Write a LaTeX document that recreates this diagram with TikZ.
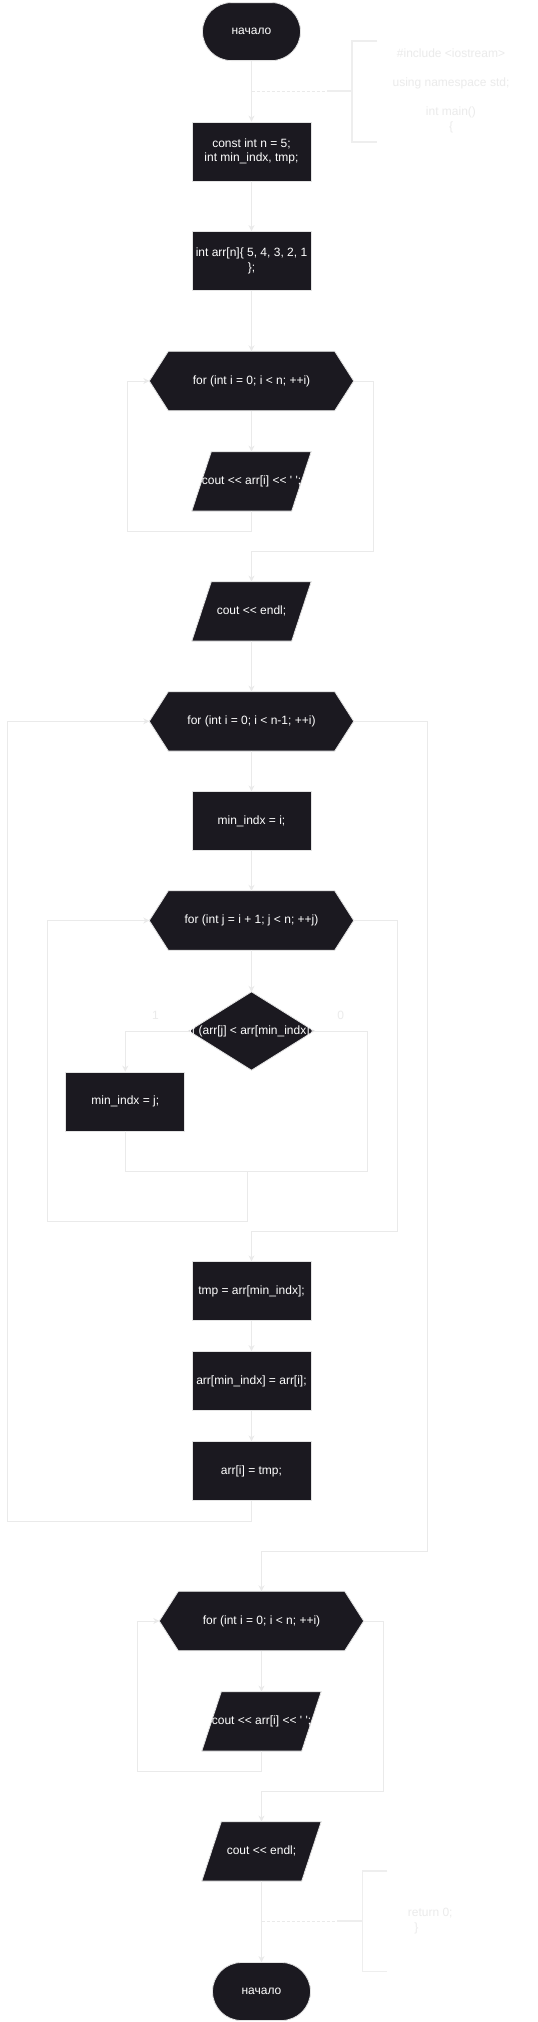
\documentclass[tikz,border=0pt]{standalone}
\usepackage{fontspec}
\setmainfont{Liberation Sans}[Ligatures=TeXOff]
\usetikzlibrary{arrows.meta,backgrounds}
\definecolor{nodefill}{HTML}{1B1920}
\definecolor{edgecol}{HTML}{EAEAEA}
\definecolor{bracketcol}{HTML}{EEEEEE}
\definecolor{bordercol}{HTML}{E4E4E4}
\definecolor{notecol}{HTML}{EBEBEB}
\tikzset{
 base/.style={inner sep=0pt, text=white, font=\fontsize{12}{14.7}\selectfont, align=center},
 termbox/.style={base, fill=nodefill, draw=bordercol, line width=0.8pt, rounded corners=29pt, minimum width=98, minimum height=58},
 procbox/.style={base, fill=nodefill, draw=bordercol, line width=0.8pt, minimum width=119, minimum height=59},
 hexbox/.style={base, minimum width=166, minimum height=59},
 parabox/.style={base, minimum width=119, minimum height=59},
 decbox/.style={base, minimum width=125, minimum height=78},
 shapefill/.style={fill=nodefill, draw=bordercol, line width=0.8pt},
 conn/.style={draw=edgecol, line width=1pt},
 arr/.style={conn, -{Stealth[length=6pt,width=6pt]}},
 dashline/.style={conn, dash pattern=on 3pt off 2pt},
 bracket/.style={draw=bracketcol, line width=1.4pt},
 note/.style={text=notecol, font=\fontsize{12}{14.7}\selectfont, align=center, inner sep=0pt},
}
\newcommand\hexpoly[1]{\path[shapefill] (#1.north west) -- (#1.north east) -- ([xshift=19pt]#1.east) -- (#1.south east) -- (#1.south west) -- ([xshift=-19pt]#1.west) -- cycle;}
\newcommand\parapoly[1]{\path[shapefill] ([xshift=19.5pt]#1.north west) -- (#1.north east) -- ([xshift=-19.5pt]#1.south east) -- (#1.south west) -- cycle;}
\newcommand\decpoly[1]{\path[shapefill] (#1.north) -- (#1.east) -- (#1.south) -- (#1.west) -- cycle;}
\begin{document}
\begin{tikzpicture}[x=1pt,y=-1pt]
\begin{pgfonlayer}{background}
\fill[white] (0,0) rectangle (538,2022);
\end{pgfonlayer}
\useasboundingbox (0,0) rectangle (538,2022);

% nodes
\node[termbox] (start) at (251.5,31.6) {начало};
\node[procbox] (b1) at (251.5,151.5) {const int n = 5;\\int min\_indx, tmp;};
\node[procbox] (b2) at (251.5,261) {int arr[n]\{ 5, 4, 3, 2, 1\\\};};
\node[hexbox] (f1) at (251.5,381) {for (int i = 0; i < n; ++i)};
\node[parabox] (p1) at (251.5,481.3) {cout << arr[i] << ' ';};
\node[parabox] (e1) at (251.5,611.3) {cout << endl;};
\node[hexbox] (f2) at (251.5,721.3) {for (int i = 0; i < n-1; ++i)};
\node[procbox] (b3) at (251.5,821.3) {min\_indx = i;};
\node[hexbox] (f3) at (251.5,920.5) {for (int j = i + 1; j < n; ++j)};
\node[decbox] (d1) at (251.5,1031) {\makebox[0pt]{if (arr[j] < arr[min\_indx])}};
\node[procbox] (b4) at (125.3,1101.5) {min\_indx = j;};
\node[procbox] (b5) at (251.5,1291.3) {tmp = arr[min\_indx];};
\node[procbox] (b6) at (251.5,1381) {arr[min\_indx] = arr[i];};
\node[procbox] (b7) at (251.5,1471.3) {arr[i] = tmp;};
\node[hexbox] (f4) at (261.5,1621) {for (int i = 0; i < n; ++i)};
\node[parabox] (p2) at (261.5,1721.3) {cout << arr[i] << ' ';};
\node[parabox] (e2) at (261.5,1851.3) {cout << endl;};
\node[termbox] (stop) at (261.5,1991.5) {начало};

\begin{pgfonlayer}{background}
\hexpoly{f1}\hexpoly{f2}\hexpoly{f3}\hexpoly{f4}
\parapoly{p1}\parapoly{e1}\parapoly{p2}\parapoly{e2}
\decpoly{d1}
\end{pgfonlayer}

\coordinate (f1w) at ([xshift=-19pt]f1.west);
\coordinate (f1e) at ([xshift=19pt]f1.east);
\coordinate (f2w) at ([xshift=-19pt]f2.west);
\coordinate (f2e) at ([xshift=19pt]f2.east);
\coordinate (f3w) at ([xshift=-19pt]f3.west);
\coordinate (f3e) at ([xshift=19pt]f3.east);
\coordinate (f4w) at ([xshift=-19pt]f4.west);
\coordinate (f4e) at ([xshift=19pt]f4.east);

% labels
\node[note] (l1) at (155.5,1015.7) {1};
\node[note] (l0) at (340.8,1015.7) {0};

% comments
\node[note] (c1) at (451,90.8) {\#include <iostream>\\[14.7pt]using namespace std;\\[14.7pt]int main()\\\{};
\coordinate (c1a) at (251.5,91);
\coordinate (c1b) at (327,91);
\draw[dashline] (c1a) -- (c1b);
\draw[bracket] (c1b) -- (352,91);
\draw[bracket] (377,41) -- (352,41) -- (352,142) -- (377,142);

\node[note, align=left, anchor=west] (c2) at (407.7,1921.3) {return 0;\\\hspace*{6.5pt}\}};
\coordinate (c2a) at (261.5,1921);
\coordinate (c2b) at (337.3,1921);
\draw[dashline] (c2a) -- (c2b);
\draw[bracket] (c2b) -- (362.3,1921);
\draw[bracket] (387.3,1871) -- (362.3,1871) -- (362.3,1971.7) -- (387.3,1971.7);

% connectors
\draw[arr] (start.south) -- (b1.north);
\draw[arr] (b1.south) -- (b2.north);
\draw[arr] (b2.south) -- (f1.north);
\draw[arr] (f1.south) -- (p1.north);
\draw[arr] (p1.south) -- ++(0,20) -| (127.3,381) -- (f1w);
\draw[arr] (f1e) -| (373.3,551) -| (e1.north);
\draw[arr] (e1.south) -- (f2.north);
\draw[arr] (f2.south) -- (b3.north);
\draw[arr] (b3.south) -- (f3.north);
\draw[arr] (f3.south) -- (d1.north);
\draw[arr] (d1.west) -| (b4.north);
\draw[conn] (d1.east) -| (367.5,1171) -| (b4.south);
\coordinate (m1) at (247.4,1171);
\draw[arr] (m1) -- (247.4,1221) -| (47.4,920.5) -- (f3w);
\draw[arr] (f3e) -| (397.4,1231) -| (b5.north);
\draw[arr] (b5.south) -- (b6.north);
\draw[arr] (b6.south) -- (b7.north);
\draw[arr] (b7.south) -- ++(0,20) -| (7.5,721.3) -- (f2w);
\draw[arr] (f2e) -| (427.2,1551) -| (f4.north);
\draw[arr] (f4.south) -- (p2.north);
\draw[arr] (p2.south) -- ++(0,20) -| (137.3,1621) -- (f4w);
\draw[arr] (f4e) -| (383.3,1791) -| (e2.north);
\draw[arr] (e2.south) -- (stop.north);
\end{tikzpicture}
\end{document}
